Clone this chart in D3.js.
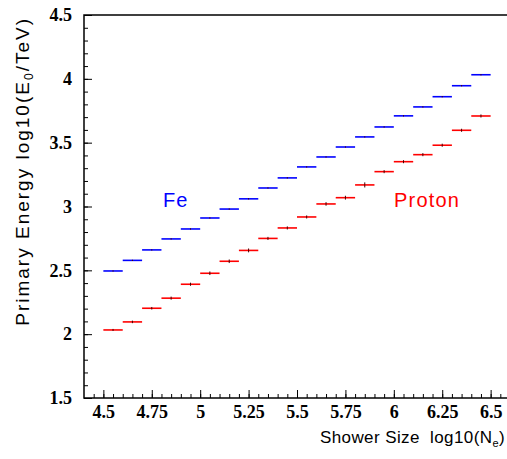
<!DOCTYPE html>
<html>
<head>
<meta charset="utf-8">
<script src="https://cdn.jsdelivr.net/npm/d3@7"></script>
<style>
  body { margin: 0; background: #fff; }
  svg { display: block; }
</style>
</head>
<body>
<div id="vis1"></div>
<script>
// bin centres in log10(Ne), bins are 0.1 wide
var binCenters = [4.55, 4.65, 4.75, 4.85, 4.95, 5.05, 5.15, 5.25, 5.35, 5.45,
                  5.55, 5.65, 5.75, 5.85, 5.95, 6.05, 6.15, 6.25, 6.35, 6.45];
var binHalfWidth = 0.05;

// mean log10(E0/TeV) per bin
var feEnergy = [2.495, 2.578, 2.66, 2.746, 2.824, 2.91, 2.98, 3.06, 3.145, 3.224,
                3.31, 3.388, 3.466, 3.545, 3.623, 3.71, 3.78, 3.86, 3.946, 4.032];
var feErr = [0.005, 0.005, 0.005, 0.005, 0.005, 0.005, 0.005, 0.005, 0.005, 0.005,
             0.005, 0.005, 0.005, 0.005, 0.005, 0.005, 0.005, 0.005, 0.005, 0.005];

var protonEnergy = [2.033, 2.096, 2.203, 2.282, 2.391, 2.477, 2.571, 2.656, 2.75, 2.832,
                    2.918, 3.02, 3.069, 3.169, 3.273, 3.351, 3.406, 3.48, 3.597, 3.709];
var protonErr = [0.008, 0.01, 0.01, 0.012, 0.012, 0.014, 0.014, 0.015, 0.012, 0.012,
                 0.012, 0.014, 0.015, 0.02, 0.012, 0.012, 0.012, 0.012, 0.012, 0.012];

var xMajorTicks = [4.5, 4.75, 5, 5.25, 5.5, 5.75, 6, 6.25, 6.5];
var xTickLabels = ["4.5", "4.75", "5", "5.25", "5.5", "5.75", "6", "6.25", "6.5"];
var yMajorTicks = [1.5, 2, 2.5, 3, 3.5, 4, 4.5];
var yTickLabels = ["1.5", "2", "2.5", "3", "3.5", "4", "4.5"];

var width = 507, height = 459;
var frame = {left: 84, right: 510, top: 15, bottom: 398};

var x = d3.scaleLinear()
    .domain([4.4, 6.6])
    .range([frame.left, frame.right]);

var y = d3.scaleLinear()
    .domain([1.5, 4.5])
    .range([frame.bottom, frame.top]);

var svg = d3.select("#vis1").append("svg")
    .attr("width", width)
    .attr("height", height);

// minor ticks (every 0.05 in x, 0.1 in y)
var xMinor = d3.range(4.45, 6.58, 0.05).map(function(v) { return +v.toFixed(2); });
var yMinor = d3.range(1.6, 4.45, 0.1).map(function(v) { return +v.toFixed(1); });

svg.append("g")
    .attr("transform", "translate(0," + frame.bottom + ")")
    .call(d3.axisBottom(x).tickValues(xMinor).tickSize(-4).tickFormat(""))
    .call(function(g) { g.select(".domain").remove(); });

svg.append("g")
    .attr("transform", "translate(" + frame.left + ",0)")
    .call(d3.axisLeft(y).tickValues(yMinor).tickSize(-4).tickFormat(""))
    .call(function(g) { g.select(".domain").remove(); });

var xAxis = d3.axisBottom(x)
    .tickValues(xMajorTicks)
    .tickSize(-8)
    .tickPadding(7)
    .tickFormat(function(d, i) { return xTickLabels[i]; });

var yAxis = d3.axisLeft(y)
    .tickValues(yMajorTicks)
    .tickSize(-8)
    .tickPadding(12)
    .tickFormat(function(d, i) { return yTickLabels[i]; });

svg.append("g")
    .attr("class", "x axis")
    .attr("transform", "translate(0," + frame.bottom + ")")
    .call(xAxis)
    .call(function(g) { g.select(".domain").remove(); })
    .selectAll("text")
    .style("font", "bold 18px 'Liberation Serif'")
    .attr("fill", "#000");

svg.append("g")
    .attr("class", "y axis")
    .attr("transform", "translate(" + frame.left + ",0)")
    .call(yAxis)
    .call(function(g) { g.select(".domain").remove(); })
    .selectAll("text")
    .style("font", "bold 18px 'Liberation Serif'")
    .attr("fill", "#000");

// frame
svg.append("rect")
    .attr("x", frame.left)
    .attr("y", frame.top)
    .attr("width", frame.right - frame.left)
    .attr("height", frame.bottom - frame.top)
    .attr("fill", "none")
    .attr("stroke", "#000")
    .attr("stroke-width", 1.5);

function drawSeries(vals, errs, col) {
    var g = svg.append("g");
    g.selectAll(".hbar")
        .data(vals).enter()
        .append("line")
        .attr("x1", function(d, i) { return x(binCenters[i] - binHalfWidth); })
        .attr("x2", function(d, i) { return x(binCenters[i] + binHalfWidth); })
        .attr("y1", function(d) { return y(d); })
        .attr("y2", function(d) { return y(d); })
        .attr("stroke", col)
        .attr("stroke-width", 1.6);
    g.selectAll(".ebar")
        .data(vals).enter()
        .append("line")
        .attr("x1", function(d, i) { return x(binCenters[i]); })
        .attr("x2", function(d, i) { return x(binCenters[i]); })
        .attr("y1", function(d, i) { return y(d - errs[i]); })
        .attr("y2", function(d, i) { return y(d + errs[i]); })
        .attr("stroke", "#400")
        .attr("stroke-width", 1);
}

drawSeries(feEnergy, feErr, "#0000ff");
drawSeries(protonEnergy, protonErr, "#ff0000");

svg.append("text")
    .attr("x", 163)
    .attr("y", 207)
    .style("font", "20px 'Liberation Sans'")
    .style("letter-spacing", "1px")
    .style("fill", "#0000ff")
    .text("Fe");

svg.append("text")
    .attr("x", 394)
    .attr("y", 207)
    .style("font", "20px 'Liberation Sans'")
    .style("letter-spacing", "1.2px")
    .style("fill", "#ff0000")
    .text("Proton");

// axis titles
var xt = svg.append("text")
    .attr("x", 505)
    .attr("y", 443)
    .attr("text-anchor", "end")
    .style("font", "17px 'Liberation Sans'")
    .style("letter-spacing", "0.4px")
    .style("fill", "#000");
xt.append("tspan").text("Shower Size\u00a0\u00a0log10(N");
xt.append("tspan").attr("dy", 4).style("font-size", "11px").text("e");
xt.append("tspan").attr("dy", -4).text(")");

var yt = svg.append("text")
    .attr("transform", "translate(29,17) rotate(-90)")
    .attr("text-anchor", "end")
    .style("font", "19px 'Liberation Sans'")
    .style("letter-spacing", "2px")
    .style("fill", "#000");
yt.append("tspan").text("Primary Energy log10(E");
yt.append("tspan").attr("dy", 4).style("font-size", "12px").text("0");
yt.append("tspan").attr("dy", -4).text("/TeV)");
</script>
</body>
</html>
